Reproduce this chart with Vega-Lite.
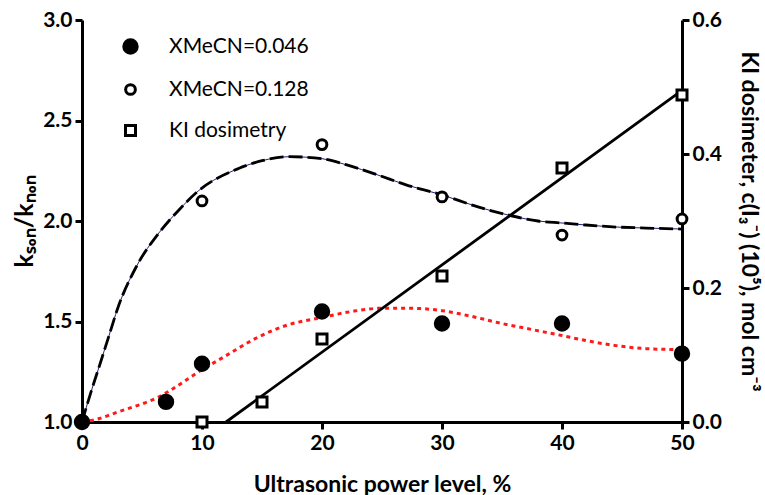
{
  "$schema": "https://vega.github.io/schema/vega-lite/v6.json",
  "width": 600,
  "height": 402,
  "autosize": {"type": "none"},
  "padding": {"left": 82, "top": 20, "right": 83, "bottom": 73},
  "background": "white",
  "config": {
    "view": {"stroke": null},
    "font": "Lato",
    "axis": {
      "grid": false,
      "domainColor": "black",
      "domainWidth": 3,
      "tickColor": "black",
      "tickWidth": 3,
      "tickSize": 7,
      "labelColor": "black",
      "labelFont": "Lato",
      "labelFontSize": 21,
      "labelFontWeight": "bold",
      "labelPadding": 3,
      "labelFlush": false,
      "titleColor": "black",
      "titleFont": "Lato",
      "titleFontSize": 23,
      "titleFontWeight": "bold"
    },
    "legend": {
      "orient": "none",
      "legendX": 38,
      "legendY": 16,
      "labelFont": "Lato",
      "labelFontSize": 21,
      "labelFontWeight": "normal",
      "labelColor": "black",
      "labelOffset": 28,
      "rowPadding": 18,
      "symbolStrokeWidth": 3
    }
  },
  "datasets": {
    "pts": [
      {"x": 0, "y": 1.0, "series": "XMeCN=0.046"},
      {"x": 7, "y": 1.10, "series": "XMeCN=0.046"},
      {"x": 10, "y": 1.29, "series": "XMeCN=0.046"},
      {"x": 20, "y": 1.55, "series": "XMeCN=0.046"},
      {"x": 30, "y": 1.49, "series": "XMeCN=0.046"},
      {"x": 40, "y": 1.49, "series": "XMeCN=0.046"},
      {"x": 50, "y": 1.34, "series": "XMeCN=0.046"},
      {"x": 10, "y": 2.10, "series": "XMeCN=0.128"},
      {"x": 20, "y": 2.38, "series": "XMeCN=0.128"},
      {"x": 30, "y": 2.12, "series": "XMeCN=0.128"},
      {"x": 40, "y": 1.93, "series": "XMeCN=0.128"},
      {"x": 50, "y": 2.01, "series": "XMeCN=0.128"}
    ],
    "ki": [
      {"x": 10, "y": 0.0, "series": "KI dosimetry"},
      {"x": 15, "y": 0.03, "series": "KI dosimetry"},
      {"x": 20, "y": 0.124, "series": "KI dosimetry"},
      {"x": 30, "y": 0.218, "series": "KI dosimetry"},
      {"x": 40, "y": 0.379, "series": "KI dosimetry"},
      {"x": 50, "y": 0.488, "series": "KI dosimetry"}
    ],
    "kiline": [
      {"x": 12, "y": 0.0},
      {"x": 50, "y": 0.495}
    ],
    "fit128": [
      {"x": 0, "y": 1.0}, {"x": 0.7, "y": 1.14}, {"x": 1.4, "y": 1.27}, {"x": 2.2, "y": 1.42},
      {"x": 3, "y": 1.57}, {"x": 4.5, "y": 1.77}, {"x": 6.4, "y": 1.94}, {"x": 8, "y": 2.05},
      {"x": 9.7, "y": 2.15}, {"x": 13, "y": 2.26}, {"x": 15, "y": 2.30}, {"x": 17.3, "y": 2.32},
      {"x": 20, "y": 2.31}, {"x": 22, "y": 2.28}, {"x": 24.6, "y": 2.23}, {"x": 27, "y": 2.18},
      {"x": 30, "y": 2.13}, {"x": 33, "y": 2.07}, {"x": 35.5, "y": 2.03}, {"x": 38, "y": 2.0},
      {"x": 40, "y": 1.99}, {"x": 42, "y": 1.98}, {"x": 44.5, "y": 1.97}, {"x": 47, "y": 1.965},
      {"x": 50, "y": 1.96}
    ],
    "fit046": [
      {"x": 0, "y": 1.0}, {"x": 1, "y": 1.01}, {"x": 3, "y": 1.05}, {"x": 6.4, "y": 1.125},
      {"x": 10, "y": 1.26}, {"x": 12, "y": 1.33}, {"x": 14.6, "y": 1.42}, {"x": 17, "y": 1.48},
      {"x": 20, "y": 1.52}, {"x": 22.5, "y": 1.55}, {"x": 25, "y": 1.566}, {"x": 27.2, "y": 1.566},
      {"x": 30, "y": 1.554}, {"x": 32.5, "y": 1.525}, {"x": 35, "y": 1.49}, {"x": 37.5, "y": 1.46},
      {"x": 40, "y": 1.43}, {"x": 42, "y": 1.405}, {"x": 44.5, "y": 1.38}, {"x": 47, "y": 1.365},
      {"x": 50, "y": 1.36}
    ]
  },
  "encoding": {
    "x": {
      "field": "x",
      "type": "quantitative",
      "scale": {"domain": [0, 50], "nice": false},
      "axis": {
        "values": [0, 10, 20, 30, 40, 50],
        "title": "Ultrasonic power level, %",
        "titlePadding": 20
      }
    }
  },
  "layer": [
    {
      "encoding": {
        "y": {
          "field": "y",
          "type": "quantitative",
          "scale": {"domain": [1, 3], "nice": false, "zero": false},
          "axis": {
            "orient": "left",
            "values": [1, 1.5, 2, 2.5, 3],
            "format": ".1f",
            "title": "kₛₒₙ/kₙₒₙ",
            "titleFontSize": 25,
            "titlePadding": 5
          }
        }
      },
      "layer": [
        {
          "data": {"name": "fit128"},
          "mark": {"type": "line", "interpolate": "monotone", "color": "#1a237e", "strokeWidth": 1, "clip": false},
          "encoding": {}
        },
        {
          "data": {"name": "fit128"},
          "mark": {"type": "line", "interpolate": "monotone", "color": "black", "strokeWidth": 2.8, "strokeDash": [14, 5], "clip": false},
          "encoding": {}
        },
        {
          "data": {"name": "fit046"},
          "mark": {"type": "line", "interpolate": "monotone", "color": "#ff1a1a", "strokeWidth": 3, "strokeDash": [4, 4], "clip": false},
          "encoding": {}
        },
        {
          "data": {"name": "pts"},
          "mark": {"type": "point", "filled": true, "strokeWidth": 3, "opacity": 1, "clip": false},
          "encoding": {
            "shape": {"field": "series", "type": "nominal", "scale": {"type": "ordinal", "domain": ["XMeCN=0.046", "XMeCN=0.128", "KI dosimetry"], "range": ["circle", "circle", "square"]}, "legend": {"title": null}},
            "fill": {"field": "series", "type": "nominal", "scale": {"type": "ordinal", "domain": ["XMeCN=0.046", "XMeCN=0.128", "KI dosimetry"], "range": ["black", "white", "white"]}, "legend": {"title": null}},
            "stroke": {"field": "series", "type": "nominal", "scale": {"type": "ordinal", "domain": ["XMeCN=0.046", "XMeCN=0.128", "KI dosimetry"], "range": ["black", "black", "black"]}, "legend": {"title": null}},
            "size": {"field": "series", "type": "nominal", "scale": {"type": "ordinal", "domain": ["XMeCN=0.046", "XMeCN=0.128", "KI dosimetry"], "range": [180, 95, 100]}, "legend": {"title": null}}
          }
        }
      ]
    },
    {
      "encoding": {
        "y": {
          "field": "y",
          "type": "quantitative",
          "scale": {"domain": [0, 0.6], "nice": false, "zero": false},
          "axis": {
            "orient": "right",
            "values": [0, 0.2, 0.4, 0.6],
            "format": ".1f",
            "title": "KI dosimeter, c(I₃⁻) (10⁵), mol cm⁻³",
            "titlePadding": 15
          }
        }
      },
      "layer": [
        {
          "data": {"name": "kiline"},
          "mark": {"type": "line", "color": "black", "strokeWidth": 2.8, "clip": false},
          "encoding": {}
        },
        {
          "data": {"name": "ki"},
          "mark": {"type": "point", "filled": true, "strokeWidth": 3, "opacity": 1, "clip": false},
          "encoding": {
            "shape": {"field": "series", "type": "nominal", "scale": {"type": "ordinal", "domain": ["XMeCN=0.046", "XMeCN=0.128", "KI dosimetry"], "range": ["circle", "circle", "square"]}, "legend": {"title": null}},
            "fill": {"field": "series", "type": "nominal", "scale": {"type": "ordinal", "domain": ["XMeCN=0.046", "XMeCN=0.128", "KI dosimetry"], "range": ["black", "white", "white"]}, "legend": {"title": null}},
            "stroke": {"field": "series", "type": "nominal", "scale": {"type": "ordinal", "domain": ["XMeCN=0.046", "XMeCN=0.128", "KI dosimetry"], "range": ["black", "black", "black"]}, "legend": {"title": null}},
            "size": {"field": "series", "type": "nominal", "scale": {"type": "ordinal", "domain": ["XMeCN=0.046", "XMeCN=0.128", "KI dosimetry"], "range": [180, 95, 100]}, "legend": {"title": null}}
          }
        }
      ]
    }
  ],
  "resolve": {"scale": {"y": "independent"}}
}
